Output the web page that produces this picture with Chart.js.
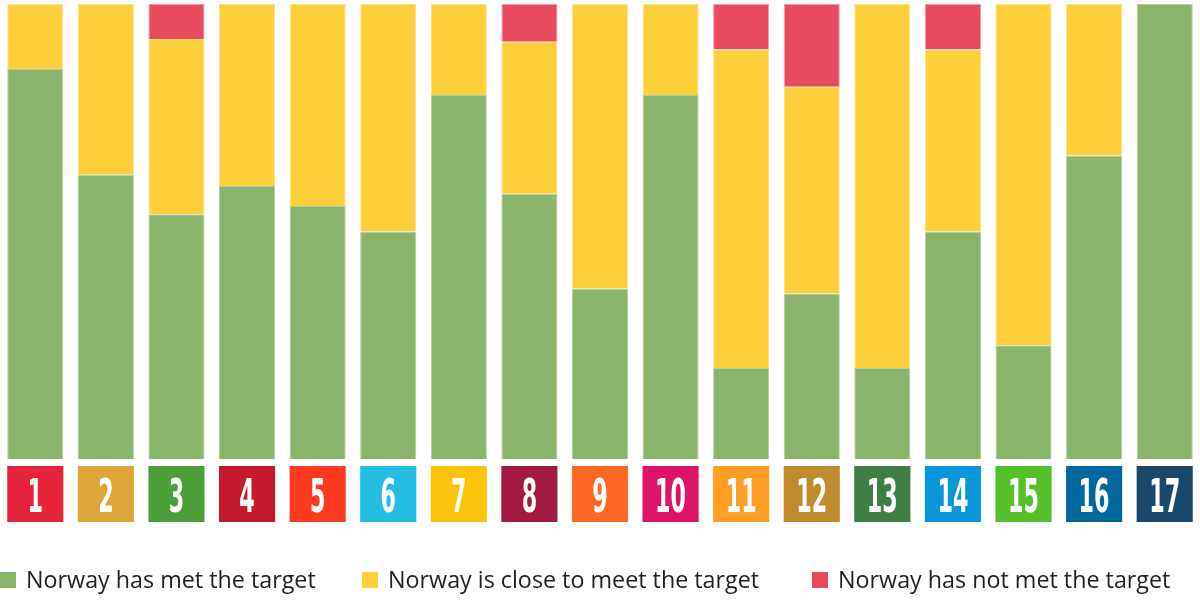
<!DOCTYPE html>
<html>
<head>
<meta charset="utf-8">
<script src="https://cdn.jsdelivr.net/npm/chart.js@4.4.1/dist/chart.umd.min.js"></script>
<style>
  html, body { margin: 0; padding: 0; background: #fff; }
  #wrap { position: relative; width: 1200px; height: 602px; }
</style>
</head>
<body>
<div id="wrap"><canvas id="sdgChart"></canvas></div>
<script>
// Sustainable development goals 1-17
const goals = ["1", "2", "3", "4", "5", "6", "7", "8", "9", "10", "11", "12", "13", "14", "15", "16", "17"];
const goalColors = [
  "#e5243b", "#dda63a", "#4c9f38", "#c5192d", "#ff3a21", "#26bde2",
  "#fcc30b", "#a21942", "#fd6925", "#dd1367", "#fd9d24", "#bf8b2e",
  "#3f7e44", "#0a97d9", "#56c02b", "#00689d", "#19486a",
];

// share of targets (%) per goal
const metTarget     = [85.7, 62.5, 53.8, 60, 55.6, 50, 80, 58.3, 37.5, 80, 20, 36.4, 20, 50, 25, 66.7, 100];
const closeToTarget = [14.3, 37.5, 38.5, 40, 44.4, 50, 20, 33.4, 62.5, 20, 70, 45.4, 80, 40, 75, 33.3, 0];
const notMetTarget  = [0, 0, 7.7, 0, 0, 0, 0, 8.3, 0, 0, 10, 18.2, 0, 10, 0, 0, 0];

const seriesNames = [
  "Norway has met the target",
  "Norway is close to meet the target",
  "Norway has not met the target",
];
const seriesColors = ["#8ab36b", "#fccf3b", "#e84a5f"];
const seriesBorders = ["#b3cd9e", "#fde08c", "#f39aa6"];

// coloured goal tiles under each bar
const goalTiles = {
  id: "goalTiles",
  afterDatasetsDraw(chart) {
    const ctx = chart.ctx;
    const meta = chart.getDatasetMeta(0);
    const top = chart.chartArea.bottom + 7;
    const size = 56;
    ctx.save();
    meta.data.forEach((bar, i) => {
      const w = bar.width;
      ctx.fillStyle = goalColors[i];
      ctx.fillRect(bar.x - w / 2, top, w, size);

      const label = goals[i];
      ctx.font = "bold 47px 'Liberation Sans Narrow', 'DejaVu Sans Condensed', 'Liberation Sans', sans-serif";
      const tw = ctx.measureText(label).width;
      const sx = Math.min(1, (label.length * 15.5) / tw);
      ctx.save();
      ctx.translate(bar.x, top + 46);
      ctx.scale(sx, 1);
      ctx.fillStyle = "#fff";
      ctx.textAlign = "center";
      ctx.textBaseline = "alphabetic";
      ctx.fillText(label, 0, 0);
      ctx.restore();
    });
    ctx.restore();
  },
};

// legend row along the bottom, left aligned
const legendStarts = [0, 362, 812];
const bottomLegend = {
  id: "bottomLegend",
  afterDraw(chart) {
    const ctx = chart.ctx;
    ctx.save();
    ctx.font = "23.3px 'Open Sans', sans-serif";
    ctx.textBaseline = "alphabetic";
    chart.data.datasets.forEach((ds, k) => {
      const x = legendStarts[k];
      ctx.fillStyle = ds.backgroundColor;
      ctx.fillRect(x, 572, 16, 16);
      ctx.fillStyle = "#231f20";
      ctx.fillText(ds.label, x + 26, 588);
    });
    ctx.restore();
  },
};

const series = [metTarget, closeToTarget, notMetTarget];

new Chart(document.getElementById("sdgChart"), {
  type: "bar",
  data: {
    labels: goals,
    datasets: series.map((values, k) => ({
      label: seriesNames[k],
      data: values,
      backgroundColor: seriesColors[k],
      borderColor: seriesBorders[k],
      borderWidth: 1,
      categoryPercentage: 1,
      barPercentage: 0.795,
    })),
  },
  options: {
    responsive: true,
    maintainAspectRatio: false,
    animation: false,
    layout: { padding: { top: 4, bottom: 143, left: 0, right: 0 } },
    scales: {
      x: { stacked: true, display: false },
      y: { stacked: true, display: false, min: 0, max: 100 },
    },
    plugins: {
      legend: { display: false },
      tooltip: { enabled: false },
    },
  },
  plugins: [goalTiles, bottomLegend],
});
</script>
</body>
</html>
